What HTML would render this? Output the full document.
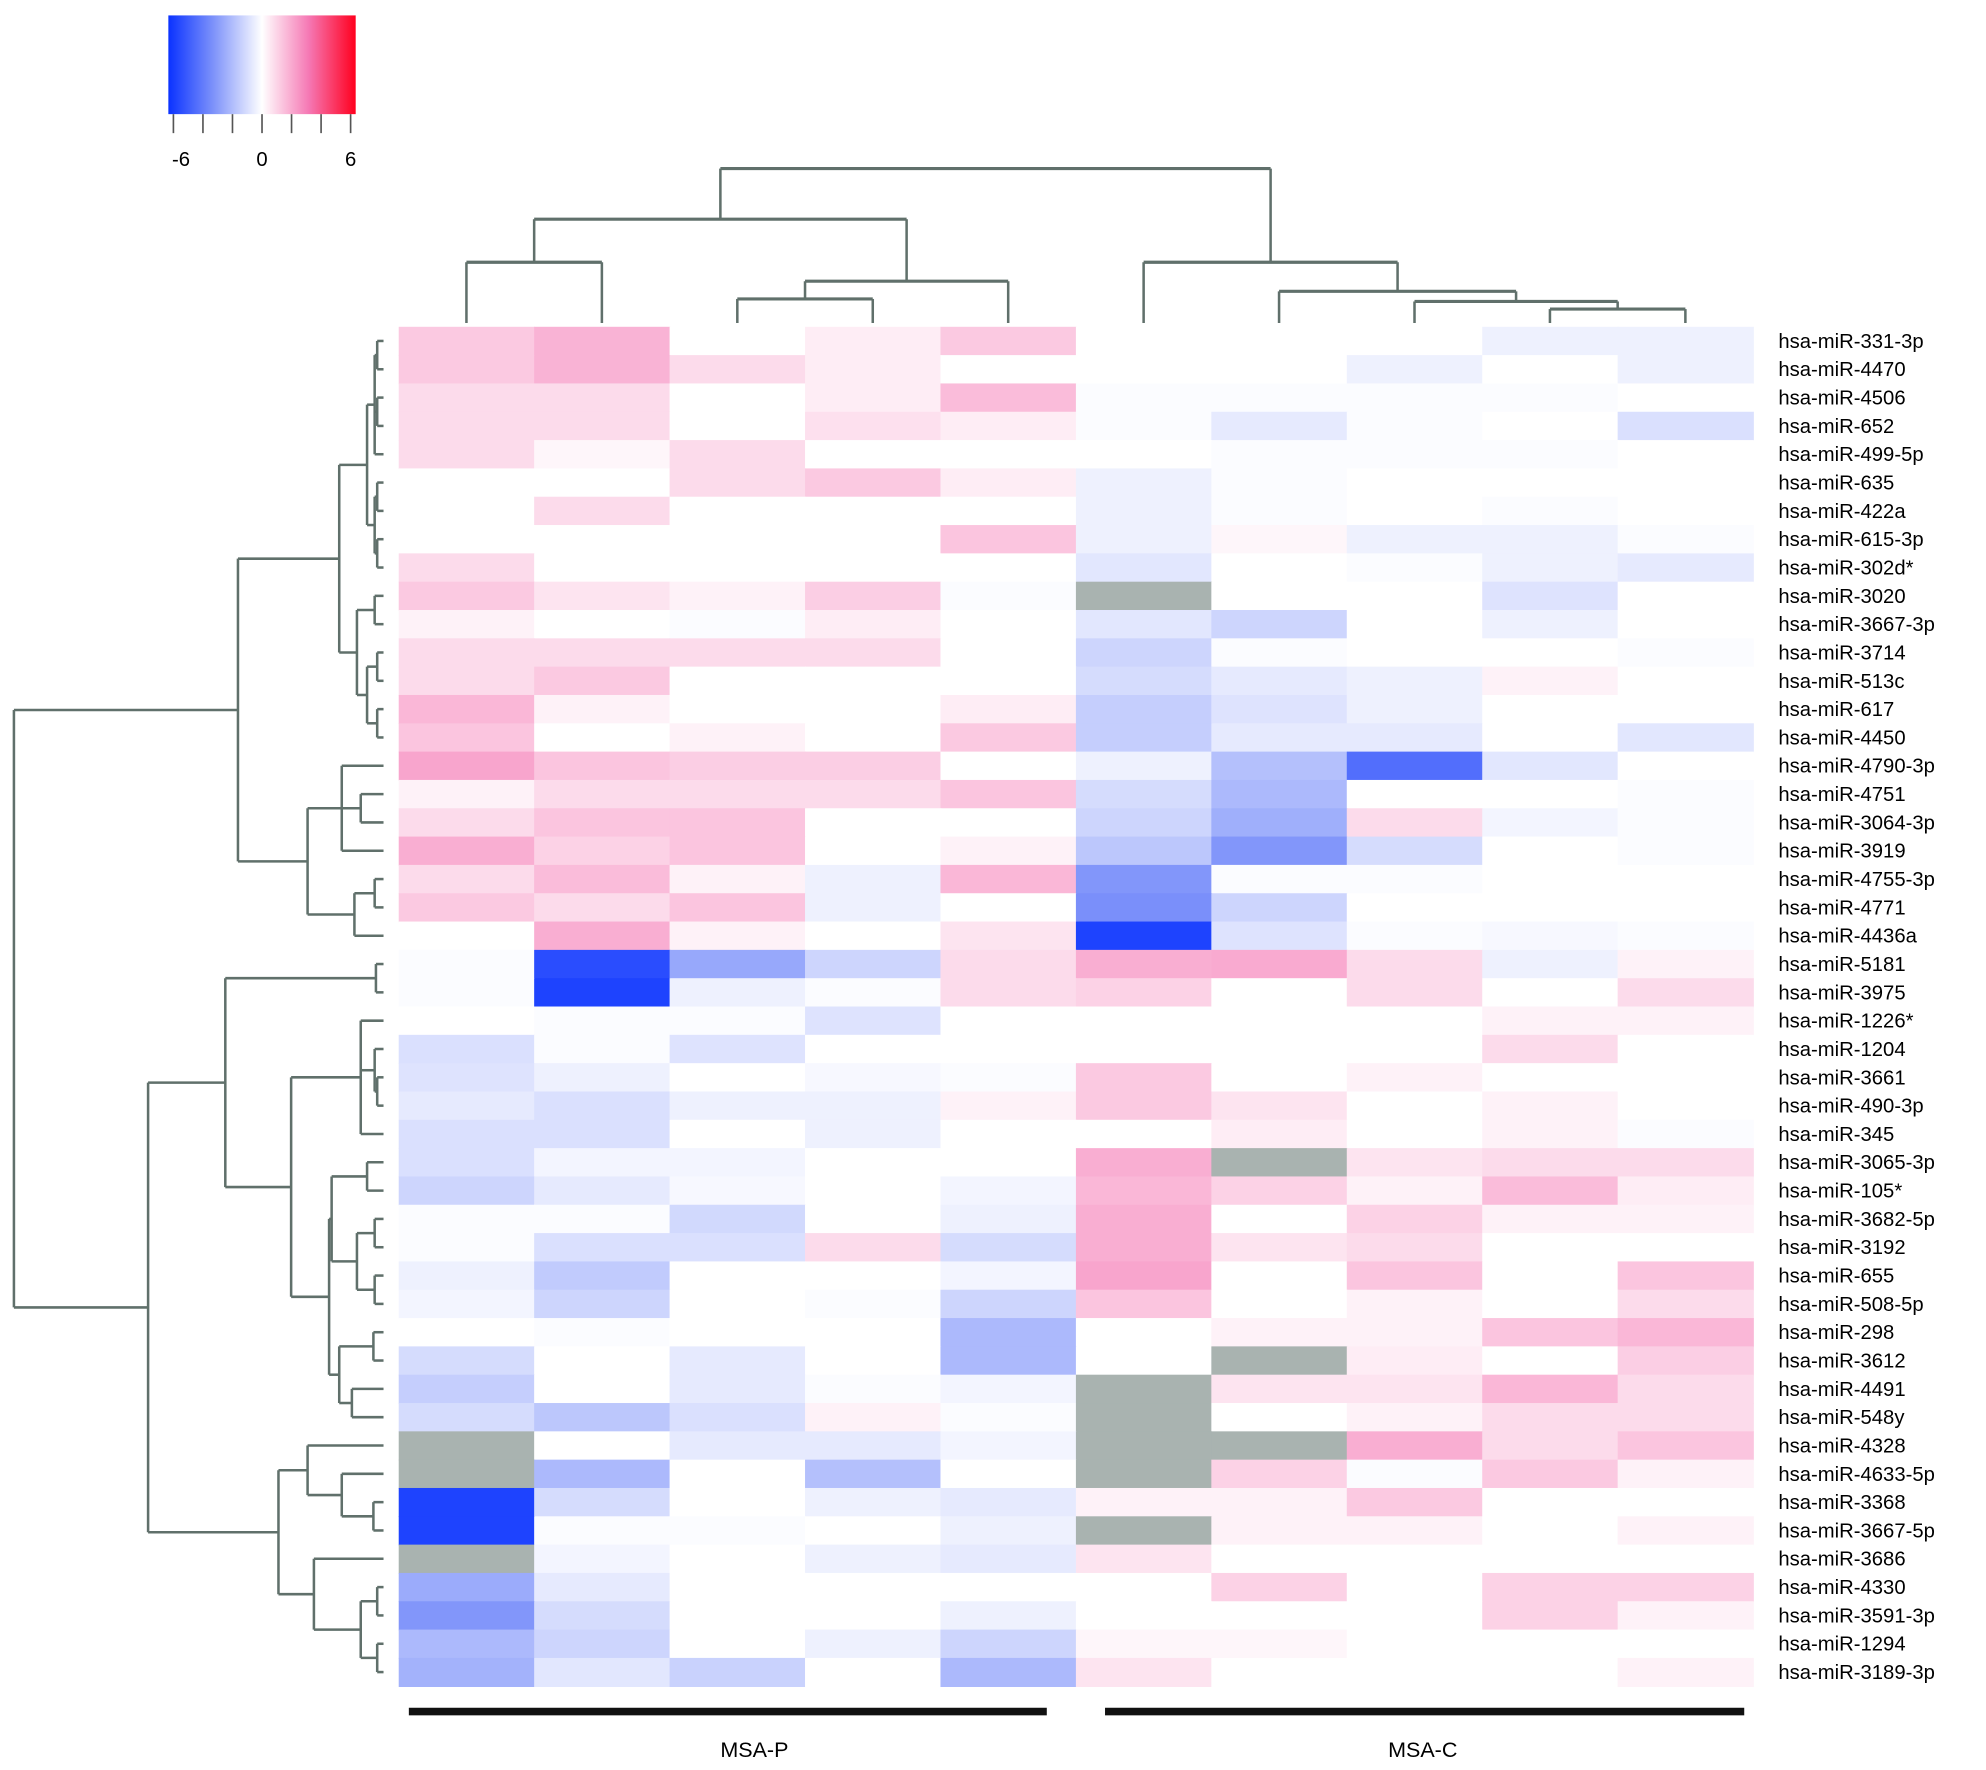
<!DOCTYPE html>
<html><head><meta charset="utf-8"><style>
html,body{margin:0;padding:0;background:#fff;}
svg{display:block;}
text{font-family:"Liberation Sans",Arial,sans-serif;}
</style></head><body>
<svg id="chart" width="1986" height="1770" viewBox="0 0 1569 1398" xmlns="http://www.w3.org/2000/svg">
<defs>
<linearGradient id="cbar" x1="0" x2="1" y1="0" y2="0">
<stop offset="0" stop-color="rgb(10,50,255)"/><stop offset="0.25" stop-color="rgb(130,150,250)"/><stop offset="0.5" stop-color="#fff"/><stop offset="0.75" stop-color="rgb(245,120,180)"/><stop offset="1" stop-color="rgb(255,0,30)"/>
</linearGradient>
</defs>
<g id="legend">
<rect x="133" y="12" width="148" height="78" fill="url(#cbar)"/>
</g>
<g id="heat"></g>
<g id="coldendro"></g>
<g id="rowdendro"></g>
<g id="labels"></g>
<rect x="323" y="1349" width="504" height="6" fill="#111"/>
<rect x="873" y="1349" width="505" height="6" fill="#111"/>
<text x="596" y="1388" font-size="17" text-anchor="middle">MSA-P</text>
<text x="1124" y="1388" font-size="17" text-anchor="middle">MSA-C</text>
</svg>
<script>
const rowLabels=["hsa-miR-331-3p","hsa-miR-4470","hsa-miR-4506","hsa-miR-652","hsa-miR-499-5p","hsa-miR-635","hsa-miR-422a","hsa-miR-615-3p","hsa-miR-302d*","hsa-miR-3020","hsa-miR-3667-3p","hsa-miR-3714","hsa-miR-513c","hsa-miR-617","hsa-miR-4450","hsa-miR-4790-3p","hsa-miR-4751","hsa-miR-3064-3p","hsa-miR-3919","hsa-miR-4755-3p","hsa-miR-4771","hsa-miR-4436a","hsa-miR-5181","hsa-miR-3975","hsa-miR-1226*","hsa-miR-1204","hsa-miR-3661","hsa-miR-490-3p","hsa-miR-345","hsa-miR-3065-3p","hsa-miR-105*","hsa-miR-3682-5p","hsa-miR-3192","hsa-miR-655","hsa-miR-508-5p","hsa-miR-298","hsa-miR-3612","hsa-miR-4491","hsa-miR-548y","hsa-miR-4328","hsa-miR-4633-5p","hsa-miR-3368","hsa-miR-3667-5p","hsa-miR-3686","hsa-miR-4330","hsa-miR-3591-3p","hsa-miR-1294","hsa-miR-3189-3p"];
const sampleGroups=["MSA-P","MSA-P","MSA-P","MSA-P","MSA-P","MSA-C","MSA-C","MSA-C","MSA-C","MSA-C"];
const legendTicks=[-6,-4,-2,0,2,4,6];
const legendLabels=["-6","0","6"];
const values=[
[1.2,1.7,0,0.4,1.2,0,0,0,-0.4,-0.4],
[1.2,1.7,0.8,0.4,0,0,0,-0.4,0,-0.4],
[0.8,0.8,0,0.4,1.5,-0.1,-0.1,-0.1,-0.1,0],
[0.8,0.8,0,0.7,0.4,-0.1,-0.6,-0.1,0,-0.9],
[0.8,0.2,0.8,0,0,0,-0.1,-0.1,-0.1,0],
[0,0,0.8,1.2,0.4,-0.4,-0.1,0,0,0],
[0,0.8,0,0,0,-0.4,-0.1,0,-0.1,0],
[0,0,0,0,1.3,-0.4,0.2,-0.4,-0.4,-0.1],
[0.8,0,0,0,0,-0.7,0,-0.1,-0.4,-0.6],
[1.2,0.6,0.3,1.1,-0.1,null,0,0,-0.8,0],
[0.3,0,-0.1,0.4,0,-0.7,-1.2,0,-0.4,0],
[0.8,0.8,0.8,0.8,0,-1.2,-0.1,0,0,-0.1],
[0.8,1.2,0,0,0,-1.0,-0.6,-0.4,0.3,0],
[1.6,0.3,0,0,0.4,-1.4,-0.8,-0.4,0,0],
[1.3,0,0.3,0,1.2,-1.4,-0.6,-0.6,0,-0.7],
[2,1.3,1.1,1.1,0,-0.4,-1.8,-4.2,-0.7,0],
[0.3,0.8,0.8,0.8,1.3,-1.0,-2,0,0,-0.1],
[0.8,1.3,1.3,0,0,-1.2,-2.3,0.8,-0.3,-0.1],
[1.8,1.0,1.3,0,0.3,-1.6,-3,-1.0,0,-0.1],
[0.8,1.5,0.3,-0.4,1.6,-3,-0.1,-0.1,0,0],
[1.2,0.8,1.3,-0.4,0,-3.2,-1.2,0,0,0],
[0,1.8,0.3,0,0.6,-5.5,-0.8,-0.1,-0.2,-0.1],
[-0.1,-5.2,-2.5,-1.2,0.8,1.8,1.9,0.8,-0.4,0.3],
[-0.1,-5.5,-0.4,-0.1,0.8,1.0,0,0.8,0,0.8],
[0,-0.1,-0.1,-0.8,0,0,0,0,0.3,0.3],
[-0.9,-0.1,-0.8,0,0,0,0,0,0.8,0],
[-0.8,-0.4,0,-0.2,-0.1,1.2,0,0.3,0,0],
[-0.6,-0.9,-0.4,-0.4,0.3,1.2,0.6,0,0.3,0],
[-0.9,-0.9,0,-0.4,0,0,0.4,0,0.3,-0.1],
[-0.9,-0.3,-0.3,0,0,1.8,null,0.6,0.8,0.8],
[-1.2,-0.6,-0.2,0,-0.3,1.6,1.0,0.3,1.5,0.4],
[-0.1,-0.1,-1.1,0,-0.4,1.8,0,1.0,0.3,0.3],
[-0.1,-0.9,-0.9,0.8,-1.0,1.8,0.6,0.8,0,0],
[-0.4,-1.5,0,0,-0.3,2.0,0,1.3,0,1.3],
[-0.3,-1.2,0,-0.1,-1.2,1.3,0,0.3,0,0.8],
[0,-0.1,0,0,-2.0,0,0.3,0.3,1.3,1.6],
[-1.0,0,-0.6,0,-2.0,0,null,0.4,0,1.1],
[-1.4,0,-0.6,-0.1,-0.3,null,0.6,0.6,1.6,0.8],
[-1.0,-1.6,-0.9,0.3,-0.1,null,0,0.3,0.8,0.8],
[null,0,-0.6,-0.6,-0.3,null,null,1.8,0.8,1.3],
[null,-2.0,0,-1.8,0,null,1.0,-0.1,1.2,0.3],
[-5.5,-1.0,0,-0.4,-0.6,0.3,0.3,1.2,0,0],
[-5.5,-0.1,-0.1,0,-0.4,null,0.3,0.3,0,0.3],
[null,-0.3,0,-0.4,-0.6,0.6,0,0,0,0],
[-2.4,-0.6,0,0,0,0,1.0,0,1.0,1.0],
[-3.0,-1.0,0,0,-0.4,0,0,0,1.0,0.3],
[-2.0,-1.2,0,-0.4,-1.2,0.2,0.2,0,0,0],
[-2.2,-0.7,-1.3,0,-2.0,0.6,0,0,0,0.3]
];
const NS="http://www.w3.org/2000/svg";
const X0=315,X1=1385,Y0=258,Y1=1332;
const nC=10,nR=rowLabels.length;
const cw=(X1-X0)/nC, rh=(Y1-Y0)/nR;
function xPos(c){return X0+c*cw;}
function yPos(r){return Y0+r*rh;}
function lerp(a,b,t){return a.map((v,i)=>Math.round(v+(b[i]-v)*t));}
function color(v){
 if(v===null)return "#a9b3b0";
 const W=[255,255,255];
 const P=[245,120,180], B=[130,150,250];
 let c;
 if(v>=0){c=v<=3?lerp(W,P,v/3):lerp(P,[255,0,30],Math.min(1,(v-3)/3));}
 else{const a=-v;c=a<=3?lerp(W,B,a/3):lerp(B,[10,50,255],Math.min(1,(a-3)/3));}
 return "rgb("+c.join(",")+")";
}
function mk(tag,attrs,parent){const e=document.createElementNS(NS,tag);for(const k in attrs)e.setAttribute(k,attrs[k]);parent.appendChild(e);return e;}
const heat=document.getElementById("heat");
values.forEach((row,r)=>row.forEach((v,c)=>{
 const el=mk("rect",{x:xPos(c),y:yPos(r),width:cw+0.6,height:rh+0.6,fill:color(v)},heat);
 
 
}));
const labels=document.getElementById("labels");
rowLabels.forEach((t,r)=>{
 const el=mk("text",{x:1405,y:yPos(r)+rh/2+5.5,"font-size":16},labels);
 el.textContent=t;
 
 
});
const lg=document.getElementById("legend");
legendTicks.forEach(t=>{
 const x=137+(t+6)/12*140;
 const el=mk("line",{x1:x,x2:x,y1:90,y2:105,stroke:"#555","stroke-width":1.3},lg);
 
 
});
legendLabels.forEach(s=>{
 const v=parseFloat(s);
 const el=mk("text",{x:137+(v+6)/12*140+(v<0?6:0),y:131,"font-size":16,"text-anchor":"middle"},lg);
 el.textContent=s;
 
 
});
const colTree={h:133,c:[{h:173,c:[{h:207,c:[0,1]},{h:222,c:[{h:236,c:[2,3]},4]}]},{h:207,c:[5,{h:230,c:[6,{h:238,c:[7,{h:244,c:[8,9]}]}]}]}]};
function N(h,c){return {h:h,c:c};}
const rowTree=N(11,[
 N(188,[
  N(268,[N(290,[N(296,[N(298,[0,1]),N(298,[2,3]),4]),N(296,[N(298,[5,6]),N(298,[7,8])])]),N(282,[N(296,[9,10]),N(290,[N(298,[11,12]),N(298,[13,14])])])]),
  N(243,[N(270,[15,N(285,[16,17]),18]),N(280,[N(296,[19,20]),21])])
 ]),
 N(117,[
  N(178,[N(297,[22,23]),N(230,[N(285,[24,N(296,[25,N(298,[26,27])]),28]),N(260,[N(262,[N(290,[29,30]),N(282,[N(296,[31,32]),N(296,[33,34])])]),N(268,[N(295,[35,36]),N(278,[37,38])])])])]),
  N(220,[N(243,[39,N(270,[40,N(295,[41,42])])]),N(248,[43,N(285,[N(298,[44,45]),N(298,[46,47])])])])
 ])
]);
const stroke="#60706b";
function drawTree(node,g,leafPos,leafEnd,vertical){
 if(typeof node==="number")return [leafPos(node),leafEnd];
 const ch=node.c.map(c=>drawTree(c,g,leafPos,leafEnd,vertical));
 const ps=ch.map(p=>p[0]);
 const lo=Math.min(...ps),hi=Math.max(...ps);
 ch.forEach(([p,h])=>{
  const el=vertical?mk("line",{x1:p,x2:p,y1:node.h,y2:h,stroke:stroke,"stroke-width":2},g):mk("line",{y1:p,y2:p,x1:node.h,x2:h,stroke:stroke,"stroke-width":2},g);
  
  
 });
 const el=vertical?mk("line",{x1:lo,x2:hi,y1:node.h,y2:node.h,stroke:stroke,"stroke-width":2.5},g):mk("line",{y1:lo,y2:hi,x1:node.h,x2:node.h,stroke:stroke,"stroke-width":2},g);
 
 
 return [(lo+hi)/2,node.h];
}
drawTree(colTree,document.getElementById("coldendro"),c=>xPos(c)+cw/2,255,true);
drawTree(rowTree,document.getElementById("rowdendro"),r=>yPos(r)+rh/2,303,false);
</script>
</body></html>
